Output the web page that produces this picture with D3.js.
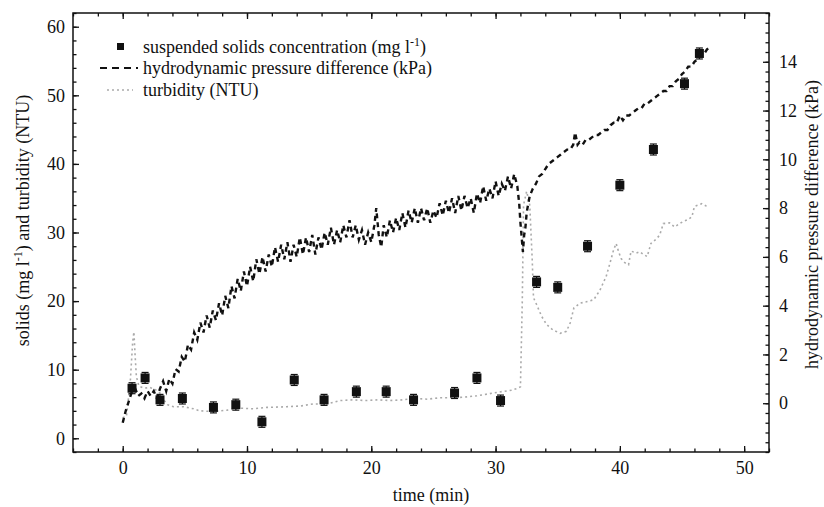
<!DOCTYPE html>
<html>
<head>
<meta charset="utf-8">
<script src="https://cdn.jsdelivr.net/npm/d3@7"></script>
<style>
  body { margin: 0; background: #fff; }
  svg text { font-family: "Liberation Serif", "Times New Roman", serif; fill: #111; }
</style>
</head>
<body>
<div id="chart"></div>
<script>
// suspended solids samples (mg/l) with error bars
const solidsTime = [0.75, 1.8, 3.0, 4.8, 7.3, 9.1, 11.2, 13.8, 16.2, 18.8, 21.2, 23.4, 26.7, 28.5, 30.4,
  33.3, 35.0, 37.4, 40.0, 42.7, 45.2, 46.4];
const solids = [7.3, 8.8, 5.6, 5.8, 4.5, 4.9, 2.4, 8.5, 5.6, 6.8, 6.8, 5.6, 6.6, 8.8, 5.5,
  22.8, 22.0, 28.0, 36.9, 42.1, 51.7, 56.1];
const solidsErr = [0.8, 0.8, 0.8, 0.8, 0.8, 0.8, 0.8, 0.8, 0.8, 0.8, 0.8, 0.8, 0.8, 0.8, 0.8,
  0.8, 0.8, 0.8, 0.8, 0.8, 0.8, 0.8];

// hydrodynamic pressure difference (kPa), right axis
const pressureTime = [0, 0.25, 0.5, 0.75, 1.0, 1.25, 1.5, 1.75, 2.0, 2.25, 2.5, 2.75, 3.0, 3.25, 3.5, 3.75,
  4.0, 4.25, 4.5, 4.75, 5.0, 5.25, 5.5, 5.75, 6.0, 6.25, 6.5, 6.75, 7.0, 7.25, 7.5, 7.75,
  8.0, 8.25, 8.5, 8.75, 9.0, 9.25, 9.5, 9.75, 10.0, 10.25, 10.5, 10.75, 11.0, 11.25, 11.5, 11.75,
  12.0, 12.25, 12.5, 12.75, 13.0, 13.25, 13.5, 13.75, 14.0, 14.25, 14.5, 14.75, 15.0, 15.25, 15.5, 15.75,
  16.0, 16.25, 16.5, 16.75, 17.0, 17.25, 17.5, 17.75, 18.0, 18.25, 18.5, 18.75, 19.0, 19.25, 19.5, 19.75,
  20.0, 20.25, 20.4, 20.6, 20.8, 21.0, 21.25, 21.5, 21.75, 22.0, 22.25, 22.5, 22.75, 23.0, 23.25, 23.5, 23.75,
  24.0, 24.25, 24.5, 24.75, 25.0, 25.25, 25.5, 25.75, 26.0, 26.25, 26.5, 26.75, 27.0, 27.25, 27.5, 27.75,
  28.0, 28.25, 28.5, 28.75, 29.0, 29.25, 29.5, 29.75, 30.0, 30.25, 30.5, 30.75, 31.0, 31.25, 31.5, 31.75,
  31.9, 32.0, 32.1, 32.2, 32.3, 32.4, 32.5, 32.6, 32.75, 33.0, 33.25, 33.5, 33.75, 34.0, 34.25, 34.5, 34.75,
  35.0, 35.25, 35.5, 35.75, 36.0, 36.25, 36.4, 36.6, 36.75, 37.0, 37.25, 37.5, 37.75, 38.0, 38.25, 38.5, 38.75,
  39.0, 39.25, 39.5, 39.75, 40.0, 40.25, 40.5, 40.75, 41.0, 41.25, 41.5, 41.75, 42.0, 42.25, 42.5, 42.75,
  43.0, 43.25, 43.5, 43.75, 44.0, 44.25, 44.5, 44.75, 45.0, 45.25, 45.5, 45.75, 46.0, 46.25, 46.5, 46.75,
  47.0, 47.2];
const pressure = [-0.8, -0.3, 0.1, 0.5, 0.6, 0.3, 0.4, 0.2, 0.5, 0.3, 0.5, 0.2, 0.6, 0.9, 0.5, 1.0,
  0.8, 1.4, 1.3, 1.9, 1.7, 2.4, 2.2, 2.9, 2.6, 3.3, 2.9, 3.6, 3.1, 3.8, 3.4, 4.1,
  3.6, 4.4, 3.9, 4.8, 4.3, 5.1, 4.6, 5.4, 4.8, 5.6, 5.0, 5.9, 5.3, 6.0, 5.4, 6.1,
  5.6, 6.4, 5.8, 6.5, 5.9, 6.6, 5.8, 6.5, 6.0, 6.8, 6.1, 6.8, 6.2, 6.9, 6.1, 6.8,
  6.3, 7.0, 6.5, 7.2, 6.5, 7.1, 6.6, 7.3, 6.8, 7.5, 6.8, 7.3, 6.7, 7.1, 6.5, 7.0,
  6.6, 7.3, 8.0, 6.9, 6.4, 7.3, 6.8, 7.5, 7.0, 7.6, 7.1, 7.8, 7.2, 7.9, 7.4, 8.0, 7.4,
  8.0, 7.5, 8.0, 7.4, 7.9, 7.6, 8.2, 7.7, 8.3, 7.8, 8.4, 7.8, 8.5, 7.9, 8.5, 8.0,
  8.4, 7.8, 8.6, 8.2, 8.9, 8.3, 8.8, 8.4, 9.1, 8.5, 9.0, 8.7, 9.3, 8.8, 9.4, 8.9,
  8.2, 7.4, 6.8, 6.2, 6.9, 7.2, 7.8, 8.1, 8.5, 8.8, 9.0, 9.3, 9.4, 9.6, 9.8, 9.9, 10.0,
  10.1, 10.2, 10.3, 10.4, 10.4, 10.6, 11.1, 10.6, 10.7, 10.6, 10.8, 10.8, 10.9, 11.0, 11.0, 11.1, 11.2,
  11.2, 11.4, 11.5, 11.5, 11.8, 11.6, 11.8, 11.8, 11.9, 12.0, 12.1, 12.1, 12.3, 12.3, 12.4, 12.5,
  12.6, 12.7, 12.8, 12.8, 13.0, 13.0, 13.2, 13.3, 13.5, 13.6, 13.8, 13.8, 14.0, 14.1, 14.3, 14.3,
  14.5, 14.6];

// turbidity (NTU), left axis
const turbTime = [0, 0.3, 0.6, 0.8, 0.9, 1.0, 1.1, 1.3, 1.7, 2.2, 2.7, 3.0, 3.3, 3.6, 4.1, 4.9, 5.7, 6.2,
  7.3, 8.4, 9.4, 10.5, 11.6, 13.2, 14.3, 15.3, 16.4, 17.5, 18.5, 19.5, 20.5, 21.5, 22.5, 23.5, 24.5,
  25.5, 26.5, 27.5, 28.5, 29.5, 30.5, 31.3, 31.8, 32.0, 32.15, 32.25, 32.5, 32.75, 32.95, 33.05, 33.3,
  33.7, 34.1, 34.6, 35.2, 35.7, 36.0, 36.3, 36.8, 37.3, 37.9, 38.4, 38.9, 39.2, 39.5, 39.7, 39.9, 40.1,
  40.4, 40.7, 40.9, 41.3, 41.6, 41.9, 42.2, 42.5, 42.9, 43.2, 43.5, 44.0, 44.4, 44.8, 45.1, 45.5, 45.8,
  46.0, 46.3, 46.6, 46.9, 47.1];
const turbidity = [3.0, 3.2, 8.0, 14.0, 15.5, 12.0, 9.0, 7.6, 7.3, 7.4, 7.0, 6.6, 5.6, 4.9, 4.6, 4.6, 4.3, 4.0,
  3.9, 4.1, 4.4, 4.3, 4.5, 4.6, 4.7, 5.0, 5.0, 5.5, 5.6, 5.5, 5.6, 5.5, 5.6, 5.8, 5.7,
  5.9, 5.9, 6.0, 6.2, 6.5, 6.8, 7.0, 7.3, 7.5, 20.0, 34.0, 36.0, 34.0, 26.0, 20.5, 19.5,
  17.8, 16.6, 15.8, 15.3, 15.6, 16.8, 19.0, 19.7, 19.9, 20.2, 21.6, 23.6, 25.5, 27.5, 28.4, 27.2, 26.2,
  25.6, 25.3, 27.3, 27.0, 27.2, 26.8, 26.5, 28.4, 29.0, 29.6, 31.3, 31.4, 30.8, 31.3, 31.6, 31.9, 32.3,
  33.8, 34.0, 34.2, 33.9, 33.8];

const xTicks = [0, 10, 20, 30, 40, 50];
const leftTicks = [0, 10, 20, 30, 40, 50, 60];
const rightTicks = [0, 2, 4, 6, 8, 10, 12, 14];

const FONT = "'Liberation Serif', 'Times New Roman', serif";
const W = 824, H = 507;
const margin = { top: 13, right: 55, bottom: 55, left: 73 };
const width = W - margin.left - margin.right;
const height = H - margin.top - margin.bottom;

const svg = d3.select("#chart").append("svg")
  .attr("width", W)
  .attr("height", H)
  .attr("font-family", FONT)
  .append("g")
  .attr("transform", `translate(${margin.left},${margin.top})`);

const x = d3.scaleLinear().domain([-4, 52]).range([0, width]);
const yL = d3.scaleLinear().domain([-2, 62]).range([height, 0]);
const yR = d3.scaleLinear().domain([-2, 16]).range([height, 0]);

// minor ticks first, majors on top
const minorX = d3.range(-4, 52.01, 2);
const minorL = d3.range(-2, 62.01, 2);
const minorR = d3.range(-2, 16.01, 0.4);

function styleAxis(g) {
  g.attr("font-family", FONT);
  g.select(".domain").remove();
  g.selectAll("line").attr("stroke", "#111").attr("stroke-width", 1.3);
  g.selectAll("text").attr("font-size", 18).style("fill", "#111");
}

svg.append("g").attr("transform", `translate(0,${height})`)
  .call(d3.axisBottom(x).tickValues(minorX).tickSize(-3.5).tickFormat(""))
  .call(styleAxis);
svg.append("g")
  .call(d3.axisTop(x).tickValues(minorX).tickSize(-3.5).tickFormat(""))
  .call(styleAxis);
svg.append("g")
  .call(d3.axisLeft(yL).tickValues(minorL).tickSize(-3.5).tickFormat(""))
  .call(styleAxis);
svg.append("g").attr("transform", `translate(${width},0)`)
  .call(d3.axisRight(yR).tickValues(minorR).tickSize(-3.5).tickFormat(""))
  .call(styleAxis);

svg.append("g").attr("transform", `translate(0,${height})`)
  .call(d3.axisBottom(x).tickValues(xTicks).tickSize(-6).tickPadding(9))
  .call(styleAxis);
svg.append("g")
  .call(d3.axisTop(x).tickValues(xTicks).tickSize(-6).tickFormat(""))
  .call(styleAxis);
svg.append("g")
  .call(d3.axisLeft(yL).tickValues(leftTicks).tickSize(-6).tickPadding(8))
  .call(styleAxis);
svg.append("g").attr("transform", `translate(${width},0)`)
  .call(d3.axisRight(yR).tickValues(rightTicks).tickSize(-6).tickPadding(10))
  .call(styleAxis);

// frame
svg.append("rect")
  .attr("width", width)
  .attr("height", height)
  .attr("fill", "none")
  .attr("stroke", "#111")
  .attr("stroke-width", 1.5);

const plot = svg.append("g");

// turbidity - grey dotted
const turbLine = d3.line().x(d => x(d[0])).y(d => yL(d[1]));
plot.append("path")
  .datum(turbTime.map((t, i) => [t, turbidity[i]]))
  .attr("d", turbLine)
  .attr("fill", "none")
  .attr("stroke", "#aaa")
  .attr("stroke-width", 1.6)
  .attr("stroke-dasharray", "2,3");

// pressure - black dashed
const presLine = d3.line().x(d => x(d[0])).y(d => yR(d[1]));
plot.append("path")
  .datum(pressureTime.map((t, i) => [t, pressure[i]]))
  .attr("d", presLine)
  .attr("fill", "none")
  .attr("stroke", "#111")
  .attr("stroke-width", 2.4)
  .attr("stroke-dasharray", "5,4");

// solids squares with error bars
const pts = solidsTime.map((t, i) => ({ t: t, v: solids[i], e: solidsErr[i] }));
const sq = plot.selectAll(".sq").data(pts).enter().append("g")
  .attr("transform", d => `translate(${x(d.t)},${yL(d.v)})`);
sq.append("line")
  .attr("y1", d => yL(d.v + d.e) - yL(d.v))
  .attr("y2", d => yL(d.v - d.e) - yL(d.v))
  .attr("stroke", "#111").attr("stroke-width", 1.2);
sq.append("line")
  .attr("x1", -3.5).attr("x2", 3.5)
  .attr("y1", d => yL(d.v + d.e) - yL(d.v))
  .attr("y2", d => yL(d.v + d.e) - yL(d.v))
  .attr("stroke", "#111").attr("stroke-width", 1.2);
sq.append("line")
  .attr("x1", -3.5).attr("x2", 3.5)
  .attr("y1", d => yL(d.v - d.e) - yL(d.v))
  .attr("y2", d => yL(d.v - d.e) - yL(d.v))
  .attr("stroke", "#111").attr("stroke-width", 1.2);
sq.append("rect")
  .attr("x", -4.5).attr("y", -4.5)
  .attr("width", 9).attr("height", 9)
  .attr("fill", "#111");

// legend
const legend = svg.append("g").attr("transform", "translate(27,0)");
legend.append("rect").attr("x", 17).attr("y", 30).attr("width", 7).attr("height", 7).attr("fill", "#111");
legend.append("line").attr("x1", 0).attr("x2", 38).attr("y1", 55).attr("y2", 55)
  .attr("stroke", "#111").attr("stroke-width", 2).attr("stroke-dasharray", "7,5");
legend.append("line").attr("x1", 7).attr("x2", 33).attr("y1", 77).attr("y2", 77)
  .attr("stroke", "#aaa").attr("stroke-width", 1.6).attr("stroke-dasharray", "2,3");

const t1 = legend.append("text").attr("x", 43).attr("y", 40).attr("font-size", 18);
t1.append("tspan").text("suspended solids concentration (mg l");
t1.append("tspan").attr("dy", -7).attr("font-size", 12).text("-1");
t1.append("tspan").attr("dy", 7).text(")");
legend.append("text").attr("x", 43).attr("y", 61).attr("font-size", 18)
  .text("hydrodynamic pressure difference (kPa)");
legend.append("text").attr("x", 43).attr("y", 83).attr("font-size", 18)
  .text("turbidity (NTU)");

// axis titles
svg.append("text")
  .attr("x", width / 2 + 10)
  .attr("y", height + 49)
  .attr("text-anchor", "middle")
  .attr("font-size", 18)
  .text("time (min)");

const yt = svg.append("text")
  .attr("transform", "rotate(-90)")
  .attr("x", -(height / 2 - 12))
  .attr("y", -44)
  .attr("text-anchor", "middle")
  .attr("font-size", 18);
yt.append("tspan").text("solids (mg l");
yt.append("tspan").attr("dy", -7).attr("font-size", 12).text("-1");
yt.append("tspan").attr("dy", 7).text(") and turbidity (NTU)");

svg.append("text")
  .attr("transform", "rotate(-90)")
  .attr("x", -(height / 2 - 8))
  .attr("y", width + 49)
  .attr("text-anchor", "middle")
  .attr("font-size", 18)
  .text("hydrodynamic pressure difference (kPa)");
</script>
</body>
</html>
